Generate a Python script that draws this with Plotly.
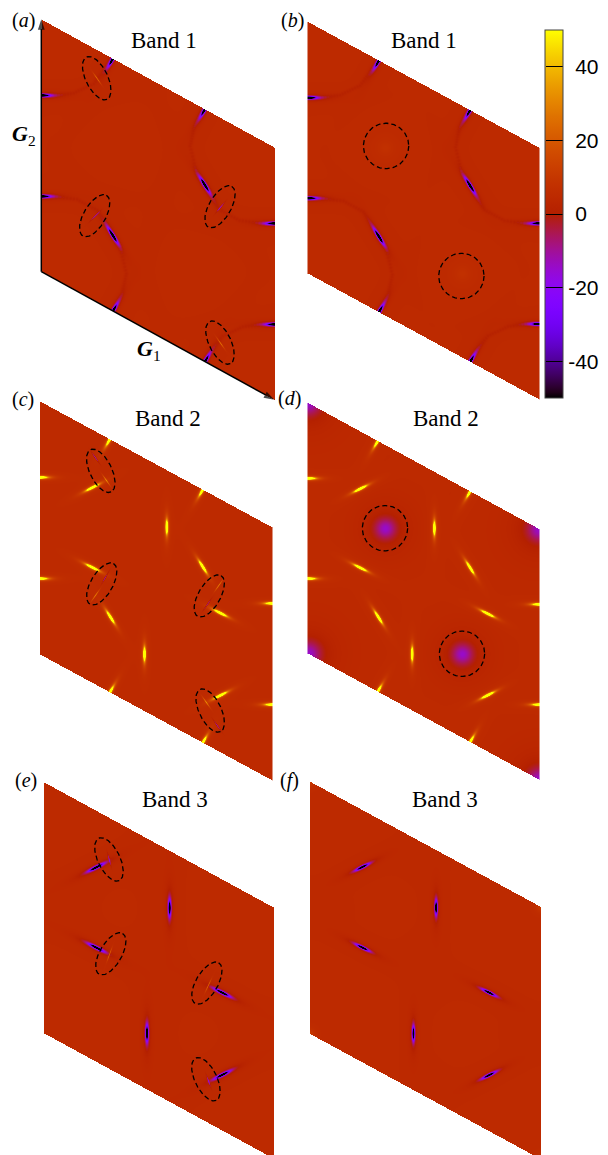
import numpy as np
import plotly.graph_objects as go

W, H = 608, 1155

# ---- colour range and ticks
Z_MIN, Z_MAX = -50, 50
CB_TICKS = [-40, -20, 0, 20, 40]
CB_TEXT = ["-40", "-20", "\u20040", "\u200420", "\u200440"]
BASE_VALUE = 4.5

# ---- titles and labels
PANEL_TAGS = ["a", "b", "c", "d", "e", "f"]
PANEL_TITLES = ["Band 1", "Band 1", "Band 2", "Band 2", "Band 3", "Band 3"]

# ---- lattice frame of each panel (lower-left corner, G1, G2)
ORIGIN_X = [41.3, 308.0, 39.7, 308.0, 43.3, 309.3]
ORIGIN_Y = [271.7, 273.3, 654.0, 653.3, 1032.7, 1033.3]
G1_X = [233.0, 231.0, 232.3, 231.0, 230.4, 231.4]
G1_Y = [128.0, 125.7, 126.0, 126.0, 125.6, 125.6]
G2_Y = [-252.5, -251.6, -253.0, -250.6, -251.0, -252.3]

# ---- hot spots in lattice coordinates, page angle of the streak
BAND1_U = [0.305, 0.0, 0.0, 0.70, 0.305, 0.70]
BAND1_V = [0.0, 0.70, 0.30, 0.0, 0.30, 0.70]
BAND1_ANGLE = [-60, 0, 0, -60, 58, 58]

BAND2_U = [0.30, 0.0, 0.0, 0.70, 0.225, 0.225, 0.545, 0.449, 0.70, 0.303, 0.776, 0.776]
BAND2_V = [0.0, 0.70, 0.30, 0.0, 0.772, 0.456, 0.775, 0.225, 0.695, 0.298, 0.55, 0.225]
BAND2_ANGLE = [-60, 0, 0, -60, -27, 27, 90, 90, 58, 58, 27, -27]

BAND3_U = [0.227, 0.228, 0.546, 0.448, 0.775, 0.775]
BAND3_V = [0.774, 0.455, 0.772, 0.224, 0.549, 0.222]
BAND3_ANGLE = [-27, 27, 90, 90, 27, -27]

# ---- peak strength of each band's streaks
BAND_PEAK = [-150.0, -150.0, 150.0, 150.0, -100.0, -100.0]
BAND_LONG = [5.8, 5.8, 5.5, 5.5, 7.0, 6.0]
BAND_SHORT = [1.0, 1.0, 1.0, 1.0, 1.2, 1.1]
FALLOFF = 1.5

# ---- faint arcs of band 1, lattice coordinates
ARC_U = [
    [0.305, 0.335, 0.363, 0.345, 0.316, 0.305],
    [0.695, 0.665, 0.637, 0.655, 0.684, 0.695],
    [0.0, 0.037, 0.152, 0.238, 0.278, 0.305],
    [1.0, 0.963, 0.848, 0.762, 0.722, 0.695],
    [0.0, 0.037, 0.137, 0.223, 0.281, 0.305],
    [1.0, 0.963, 0.863, 0.777, 0.719, 0.695],
]
ARC_V = [
    [0.30, 0.272, 0.178, 0.09, 0.022, 0.0],
    [0.70, 0.728, 0.822, 0.91, 0.978, 1.0],
    [0.30, 0.32, 0.365, 0.365, 0.33, 0.30],
    [0.70, 0.68, 0.635, 0.635, 0.67, 0.70],
    [0.70, 0.716, 0.779, 0.859, 0.961, 1.0],
    [0.30, 0.284, 0.221, 0.141, 0.039, 0.0],
]
ARC_STRENGTH = -3.0
ARC_WIDTH = 2.0

# ---- soft round blobs: panel, u, v, strength, radius
BLOB_PANEL = [1, 1, 3, 3, 3, 3, 3, 3, 5, 5, 5, 5]
BLOB_U = [1/3, 2/3, 1/3, 2/3, 0, 1, 0, 1, 0, 1, 0, 1]
BLOB_V = [2/3, 1/3, 2/3, 1/3, 0, 0, 1, 1, 0, 0, 1, 1]
BLOB_AMP = [3, 3, -19, -19, -19, -19, -19, -19, 7, 7, 7, 7]
BLOB_RADIUS = [10, 10, 12, 12, 14, 14, 14, 14, 5, 5, 5, 5]

# ---- thin lines inside the dashed ellipses: panel, u, v, angle, strength
THIN_PANEL = [0, 0, 0, 0, 2, 2, 2, 2, 2, 2, 2, 2, 4, 4, 4, 4]
THIN_U = [0.238, 0.229, 0.767, 0.767, 0.238, 0.285, 0.281, 0.238, 0.769, 0.719, 0.715, 0.762, 0.284, 0.285, 0.714, 0.715]
THIN_V = [0.887, 0.338, 0.646, 0.108, 0.896, 0.83, 0.445, 0.352, 0.656, 0.555, 0.167, 0.099, 0.834, 0.456, 0.547, 0.167]
THIN_ANGLE = [55, -45, -50, 55, 55, 55, -60, -55, -55, -55, 55, 55, 75, -70, -65, 70]
THIN_AMP = [22, -16, -16, 22, -16, 22, -16, 22, 22, -16, 22, -16, -14, 22, 22, -14]

# ---- dashed outlines: panel, u, v, angle
RING_PANEL = [0, 0, 0, 0, 2, 2, 2, 2, 4, 4, 4, 4]
RING_U = [0.238, 0.229, 0.767, 0.767, 0.263, 0.267, 0.73, 0.734, 0.285, 0.293, 0.71, 0.706]
RING_V = [0.887, 0.338, 0.646, 0.108, 0.855, 0.41, 0.593, 0.142, 0.833, 0.461, 0.553, 0.168]
RING_ANGLE = [64, -60, -60, 64, 64, -60, -60, 64, 64, -60, -60, 64]
RING_LONG, RING_SHORT = 23.5, 11.0
CIRCLE_PANEL = [1, 1, 3, 3]
CIRCLE_U = [0.338, 0.664, 1/3, 2/3]
CIRCLE_V = [0.675, 0.321, 2/3, 1/3]
CIRCLE_R = 22.7

# ---- text placement (page pixels)
TITLE_X = [163.7, 424.3, 167.7, 445.7, 175.3, 445.0]
TITLE_Y = [40.7, 40.7, 418.3, 418.3, 799.3, 799.3]
TAG_X = [23.3, 292.0, 23.0, 289.0, 26.0, 289.0]
TAG_Y = [20.0, 20.0, 399.0, 398.0, 780.0, 780.0]

SERIF = "Liberation Serif"


def stops():
    out = []
    for x in np.linspace(0, 1, 65):
        r = np.sqrt(x)
        g = x ** 3
        b = max(np.sin(2 * np.pi * x), 0)
        out.append([float(x), f"rgb({r*255:.0f},{g*255:.0f},{b*255:.0f})"])
    return out


def to_page(p, u, v):
    return ORIGIN_X[p] + np.asarray(u) * G1_X[p], ORIGIN_Y[p] + np.asarray(u) * G1_Y[p] + np.asarray(v) * G2_Y[p]


def add_streak(Z, X, Y, p, u, v, angle, amp, long_, short):
    a = np.deg2rad(angle)
    for i in (-1, 0, 1):
        for j in (-1, 0, 1):
            cx, cy = to_page(p, u + i, v + j)
            dx, dy = X - cx, Y - cy
            s = dx * np.cos(a) + dy * np.sin(a)
            t = -dx * np.sin(a) + dy * np.cos(a)
            Z += amp / (1 + (s / long_) ** 2 + (t / short) ** 2) ** FALLOFF


def panel_field(p):
    corners_x = [ORIGIN_X[p], ORIGIN_X[p] + G1_X[p]]
    top = ORIGIN_Y[p] + G2_Y[p]
    bottom = ORIGIN_Y[p] + G1_Y[p]
    xs = np.arange(np.floor(corners_x[0]), np.ceil(corners_x[1]) + 1)
    ys = np.arange(np.floor(top), min(np.ceil(bottom), H) + 1)
    X, Y = np.meshgrid(xs, ys)
    Z = np.full(X.shape, BASE_VALUE, dtype=float)

    tables = [(BAND1_U, BAND1_V, BAND1_ANGLE)] * 2 + [(BAND2_U, BAND2_V, BAND2_ANGLE)] * 2 + [(BAND3_U, BAND3_V, BAND3_ANGLE)] * 2
    us, vs, angs = tables[p]
    for u, v, a in zip(us, vs, angs):
        add_streak(Z, X, Y, p, u, v, a, BAND_PEAK[p], BAND_LONG[p], BAND_SHORT[p])

    if p < 2:
        for au, av in zip(ARC_U, ARC_V):
            au, av = np.array(au), np.array(av)
            px, py = to_page(p, au, av)
            d2 = np.full(X.shape, 1e9)
            for k in range(len(px) - 1):
                for f in np.linspace(0, 1, 9):
                    qx = px[k] + f * (px[k + 1] - px[k])
                    qy = py[k] + f * (py[k + 1] - py[k])
                    d2 = np.minimum(d2, (X - qx) ** 2 + (Y - qy) ** 2)
            Z += ARC_STRENGTH * np.exp(-d2 / ARC_WIDTH ** 2)

    for bp, u, v, amp, rad in zip(BLOB_PANEL, BLOB_U, BLOB_V, BLOB_AMP, BLOB_RADIUS):
        if bp == p:
            cx, cy = to_page(p, u, v)
            Z += amp / (1 + ((X - cx) ** 2 + (Y - cy) ** 2) / rad ** 2) ** 1.5

    for tp, u, v, a, amp in zip(THIN_PANEL, THIN_U, THIN_V, THIN_ANGLE, THIN_AMP):
        if tp == p:
            cx, cy = to_page(p, u, v)
            ang = np.deg2rad(a)
            dx, dy = X - cx, Y - cy
            s = dx * np.cos(ang) + dy * np.sin(ang)
            t = -dx * np.sin(ang) + dy * np.cos(ang)
            Z += amp * np.exp(-(s / 6.0) ** 2 - (t / 0.6) ** 2)

    U = (X - ORIGIN_X[p]) / G1_X[p]
    V = (Y - ORIGIN_Y[p] - U * G1_Y[p]) / G2_Y[p]
    Z = np.clip(Z, Z_MIN, Z_MAX)
    Z[(U < 0) | (U > 1) | (V < 0) | (V > 1)] = np.nan
    return xs, ys, np.round(Z, 1).astype(np.float32)


fig = go.Figure()
scale = stops()
for p in range(6):
    xs, ys, Z = panel_field(p)
    fig.add_trace(go.Heatmap(
        x=xs, y=ys, z=Z, zmin=Z_MIN, zmax=Z_MAX, colorscale=scale, hoverinfo="skip",
        showscale=(p == 0),
        colorbar=dict(
            thickness=17.5, thicknessmode="pixels", len=368, lenmode="pixels",
            x=545 / W, xanchor="left", xpad=0, y=1 - 30 / H, yanchor="top", ypad=0,
            tickmode="array", tickvals=CB_TICKS, ticktext=CB_TEXT,
            ticks="inside", ticklen=17.5, tickcolor="black", tickwidth=1,
            outlinecolor="#444", outlinewidth=1,
            tickfont=dict(family="Liberation Sans", size=21, color="black"),
        ),
    ))

# dashed ellipses and circles
theta = np.linspace(0, 2 * np.pi, 120)
for rp, u, v, a in zip(RING_PANEL, RING_U, RING_V, RING_ANGLE):
    cx, cy = to_page(rp, u, v)
    ang = np.deg2rad(a)
    ex = RING_LONG * np.cos(theta)
    ey = RING_SHORT * np.sin(theta)
    fig.add_trace(go.Scatter(x=cx + ex * np.cos(ang) - ey * np.sin(ang),
                             y=cy + ex * np.sin(ang) + ey * np.cos(ang),
                             mode="lines", hoverinfo="skip", showlegend=False,
                             line=dict(color="black", width=1.3, dash="5px,3px")))
for rp, u, v in zip(CIRCLE_PANEL, CIRCLE_U, CIRCLE_V):
    cx, cy = to_page(rp, u, v)
    fig.add_trace(go.Scatter(x=cx + CIRCLE_R * np.cos(theta), y=cy + CIRCLE_R * np.sin(theta),
                             mode="lines", hoverinfo="skip", showlegend=False,
                             line=dict(color="black", width=1.3, dash="5px,3px")))

# lattice vectors of panel (a)
ox, oy = to_page(0, 0, 0)
for u, v in ((1, 0), (0, 1)):
    tx, ty = to_page(0, u, v)
    fig.add_trace(go.Scatter(
        x=[float(ox), float(tx)], y=[float(oy), float(ty)], mode="lines+markers",
        hoverinfo="skip", showlegend=False, cliponaxis=False,
        line=dict(color="black", width=1.5),
        marker=dict(symbol="arrow", size=[0, 11], angleref="previous", color="black", line=dict(width=0)),
    ))

notes = []
for p in range(6):
    notes.append(dict(x=TITLE_X[p], y=TITLE_Y[p], text=PANEL_TITLES[p], showarrow=False,
                      font=dict(family=SERIF, size=23, color="black")))
    notes.append(dict(x=TAG_X[p], y=TAG_Y[p], text=f"(<i>{PANEL_TAGS[p]}</i>)", showarrow=False,
                      font=dict(family=SERIF, size=20, color="black")))
notes.append(dict(x=149, y=350, text="<b><i>G</i></b><sub>1</sub>", showarrow=False,
                  font=dict(family=SERIF, size=22, color="black")))
notes.append(dict(x=24, y=135, text="<b><i>G</i></b><sub>2</sub>", showarrow=False,
                  font=dict(family=SERIF, size=22, color="black")))

fig.update_layout(
    width=W, height=H, margin=dict(l=0, r=0, t=0, b=0, autoexpand=False),
    paper_bgcolor="white", plot_bgcolor="white",
    showlegend=False, annotations=notes,
    xaxis=dict(range=[0, W], visible=False, fixedrange=True),
    yaxis=dict(range=[H, 0], visible=False, fixedrange=True),
)
fig.write_html("out.html", config={"displayModeBar": False},
               post_script="document.body.style.margin='0';")
